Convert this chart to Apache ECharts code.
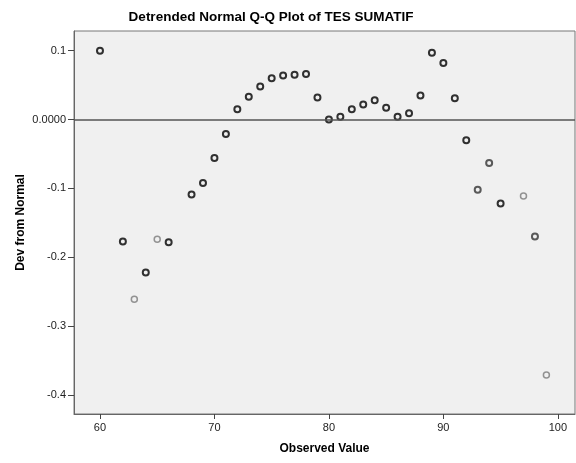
<!DOCTYPE html>
<html>
<head>
<meta charset="utf-8">
<script src="https://cdn.jsdelivr.net/npm/echarts@6/dist/echarts.min.js"></script>
<style>
  html, body { margin: 0; padding: 0; background: #fff; }
  #chart { width: 576px; height: 463px; }
</style>
</head>
<body>
<div id="chart"></div>
<script>
// observed values and their deviation from normal
const observed = [60, 62, 63, 64, 65, 66, 68, 69, 70, 71, 72, 73, 74, 75, 76, 77, 78, 79,
  80, 81, 82, 83, 84, 85, 86, 87, 88, 89, 90, 91, 92, 93, 94, 95, 97, 98, 99]
const devFromNormal = [0.100, -0.177, -0.261, -0.222, -0.174, -0.178, -0.109, -0.092, -0.056,
  -0.021, 0.015, 0.033, 0.048, 0.060, 0.064, 0.065, 0.066, 0.032, 0.000, 0.004, 0.015, 0.022,
  0.028, 0.017, 0.004, 0.009, 0.035, 0.097, 0.082, 0.031, -0.030, -0.102, -0.063, -0.122,
  -0.111, -0.170, -0.371]
// values observed only once (drawn lighter)
const singleCase = [63, 65, 97, 99]
const lessFrequent = [93, 94, 98]

const xTicks = [60, 70, 80, 90, 100]
const yTicks = [-0.4, -0.3, -0.2, -0.1, 0, 0.1]

const chart = echarts.init(document.getElementById('chart'))

function pointColor(x) {
  if (singleCase.includes(x)) return '#7a7a7a'
  if (lessFrequent.includes(x)) return '#333'
  return '#000'
}

const points = observed.map((x, i) => ({
  value: [x, devFromNormal[i]],
  itemStyle: {
    borderColor: pointColor(x),
    borderWidth: singleCase.includes(x) ? 1.5 : 2
  }
}))

const axisFont = { fontFamily: 'Arial, "Liberation Sans", sans-serif', fontSize: 11, color: '#222' }

chart.setOption({
  animation: false,
  title: {
    text: 'Detrended Normal Q-Q Plot of TES SUMATIF',
    left: 266,
    top: 5,
    textAlign: 'center',
    textStyle: { fontFamily: 'Arial, "Liberation Sans", sans-serif', fontSize: 13.5, fontWeight: 'bold', color: '#000' }
  },
  grid: {
    left: 74, right: 1, top: 31, bottom: 49,
    show: true,
    backgroundColor: '#f0f0f0',
    borderColor: '#777',
    borderWidth: 1
  },
  xAxis: {
    type: 'value',
    min: 57.73,
    max: 101.5,
    name: 'Observed Value',
    nameLocation: 'middle',
    nameGap: 29,
    nameMoveOverlap: false,
    nameTextStyle: { fontFamily: 'Arial, "Liberation Sans", sans-serif', fontSize: 12, fontWeight: 'bold', color: '#000' },
    splitLine: { show: false },
    axisLine: { onZero: false, lineStyle: { color: '#666' } },
    axisTick: { customValues: xTicks, length: 5, lineStyle: { color: '#444' } },
    axisLabel: { customValues: xTicks, margin: 8, ...axisFont }
  },
  yAxis: {
    type: 'value',
    min: -0.4276,
    max: 0.1286,
    name: 'Dev from Normal',
    nameLocation: 'middle',
    nameGap: 47,
    nameMoveOverlap: false,
    nameTextStyle: { fontFamily: 'Arial, "Liberation Sans", sans-serif', fontSize: 12, fontWeight: 'bold', color: '#000' },
    splitLine: { show: false },
    axisLine: { show: true, onZero: false, lineStyle: { color: '#666' } },
    axisTick: { show: true, customValues: yTicks, length: 6, lineStyle: { color: '#444' } },
    axisLabel: {
      customValues: yTicks,
      margin: 8,
      formatter: v => (Math.abs(v) < 1e-9 ? '0.0000' : v.toFixed(1)),
      ...axisFont
    }
  },
  series: [{
    type: 'scatter',
    symbol: 'circle',
    symbolSize: 6,
    itemStyle: { color: 'transparent' },
    data: points,
    markLine: {
      silent: true,
      symbol: 'none',
      label: { show: false },
      lineStyle: { color: '#555', width: 1.5, type: 'solid' },
      data: [{ yAxis: 0 }]
    }
  }]
})
</script>
</body>
</html>
